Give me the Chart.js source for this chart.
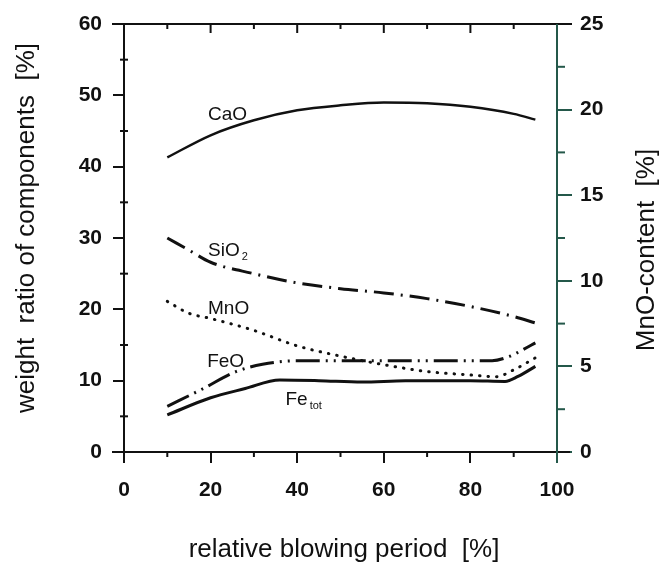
<!DOCTYPE html>
<html lang="en">
<head>
<meta charset="UTF-8">
<title>Slag composition</title>
<script src="https://cdn.jsdelivr.net/npm/chart.js"></script>
<style>
  body { margin: 0; background: #fff; }
  canvas { display: block; }
</style>
</head>
<body>
<canvas id="grafico" width="665" height="562"></canvas>
<script>
// valores
const xCaO = [10, 20, 30, 40, 50, 60, 70, 80, 90, 95];
const cao = [41.3, 44.4, 46.5, 47.9, 48.6, 49.0, 48.9, 48.4, 47.4, 46.6];

const xSiO2 = [10, 15, 20, 30, 40, 50, 60, 70, 80, 90, 95];
const sio2 = [30.0, 28.3, 26.6, 25.0, 23.7, 22.9, 22.3, 21.5, 20.4, 19.0, 18.1];

// MnO no eixo da direita (0-25)
const xMnO = [10, 15, 20, 30, 40, 50, 60, 70, 80, 86, 90, 95];
const mno = [8.8, 8.1, 7.8, 7.1, 6.2, 5.6, 5.1, 4.7, 4.5, 4.4, 4.8, 5.5];

const xFeO = [10, 18, 26, 32, 40, 60, 85, 89, 92, 95];
const feo = [6.4, 8.8, 11.3, 12.3, 12.8, 12.8, 12.8, 13.4, 14.3, 15.3];

const xFetot = [10, 20, 28, 36, 45, 55, 65, 80, 88, 91, 95];
const fetot = [5.2, 7.6, 8.9, 10.1, 10.0, 9.8, 10.0, 10.0, 9.9, 10.6, 12.0];

const xTicks = [0, 20, 40, 60, 80, 100];
const yTicks = [0, 10, 20, 30, 40, 50, 60];
const y2Ticks = [0, 5, 10, 15, 20, 25];

function pares(xs, ys) {
  return xs.map(function (x, i) { return { x: x, y: ys[i] }; });
}

const preto = '#111';
const verde = '#24584a';
const fonte = '"Liberation Sans", Arial, sans-serif';

function serie(nome, xs, ys, eixo, dash, largura) {
  return {
    label: nome,
    data: pares(xs, ys),
    yAxisID: eixo,
    borderColor: preto,
    borderWidth: largura,
    borderDash: dash,
    borderCapStyle: dash.length && dash[0] < 2 ? 'round' : 'butt',
    pointRadius: 0,
    cubicInterpolationMode: 'monotone',
    fill: false
  };
}

// ticks menores, linhas dos eixos e textos
const moldura = {
  id: 'moldura',
  afterDraw(chart) {
    const ctx = chart.ctx;
    const a = chart.chartArea;
    const sx = chart.scales.x, sy = chart.scales.y, s2 = chart.scales.y1;
    ctx.save();
    ctx.lineCap = 'butt';

    function linha(x1, y1, x2, y2, cor, w) {
      ctx.strokeStyle = cor;
      ctx.lineWidth = w;
      ctx.beginPath();
      ctx.moveTo(x1, y1);
      ctx.lineTo(x2, y2);
      ctx.stroke();
    }

    // eixos
    linha(a.left - 12, a.bottom, a.right + 13, a.bottom, preto, 2);
    linha(a.left - 12, a.top, a.right + 15, a.top, preto, 2);
    linha(a.left, a.top, a.left, a.bottom + 11, preto, 2);
    linha(a.right, a.top, a.right, a.bottom + 11, verde, 2);

    // ticks menores
    for (let v = 10; v < 100; v += 20) {
      const px = sx.getPixelForValue(v);
      linha(px, a.bottom, px, a.bottom + 5, preto, 2);
      linha(px, a.top, px, a.top + 5, preto, 2);
    }
    for (let v = 20; v < 100; v += 20) {
      const px = sx.getPixelForValue(v);
      linha(px, a.top, px, a.top + 9, preto, 2);
    }
    for (let v = 5; v < 60; v += 10) {
      const py = sy.getPixelForValue(v);
      linha(a.left - 4, py, a.left + 4, py, preto, 2);
    }
    for (let v = 2.5; v < 25; v += 5) {
      const py = s2.getPixelForValue(v);
      linha(a.right, py, a.right + 8, py, verde, 2);
    }

    // titulos dos eixos
    ctx.fillStyle = preto;
    ctx.font = '26px ' + fonte;
    ctx.textAlign = 'center';
    ctx.textBaseline = 'alphabetic';
    ctx.fillText('relative blowing period  [%]', 344, 557);

    ctx.textBaseline = 'middle';
    ctx.save();
    ctx.translate(27, 228);
    ctx.rotate(-Math.PI / 2);
    ctx.fillText('weight  ratio of components  [%]', 0, 0);
    ctx.restore();

    ctx.save();
    ctx.translate(647, 250);
    ctx.rotate(-Math.PI / 2);
    ctx.fillText('MnO-content  [%]', 0, 0);
    ctx.restore();

    // nomes das curvas
    function rotulo(texto, sub, vx, vy, tam) {
      const px = sx.getPixelForValue(vx);
      const py = sy.getPixelForValue(vy);
      ctx.textAlign = 'left';
      ctx.textBaseline = 'alphabetic';
      ctx.font = tam + 'px ' + fonte;
      ctx.fillText(texto, px, py);
      if (sub) {
        const w = ctx.measureText(texto).width;
        ctx.font = Math.round(tam * 0.6) + 'px ' + fonte;
        ctx.fillText(sub, px + w + 2, py + 4);
      }
    }
    rotulo('CaO', '', 19.4, 46.5, 19);
    rotulo('SiO', '2', 19.4, 27.5, 19);
    rotulo('MnO', '', 19.4, 19.4, 19);
    rotulo('FeO', '', 19.2, 11.9, 19);
    rotulo('Fe', 'tot', 37.3, 6.6, 19);

    ctx.restore();
  }
};

const config = {
  type: 'line',
  data: {
    datasets: [
      serie('CaO', xCaO, cao, 'y', [], 2.5),
      serie('SiO2', xSiO2, sio2, 'y', [20, 7, 2, 7], 3),
      serie('MnO', xMnO, mno, 'y1', [0.5, 8], 3),
      serie('FeO', xFeO, feo, 'y', [24, 6, 2, 6, 2, 6], 3),
      serie('Fe tot', xFetot, fetot, 'y', [], 3)
    ]
  },
  options: {
    responsive: false,
    animation: false,
    layout: { padding: { top: 24, left: 0, right: 0, bottom: 0 } },
    plugins: {
      legend: { display: false },
      tooltip: { enabled: false }
    },
    scales: {
      x: {
        type: 'linear',
        min: 0,
        max: 100,
        afterFit(scale) { scale.height = 110; },
        afterBuildTicks(scale) { scale.ticks = xTicks.map(v => ({ value: v })); },
        grid: { drawOnChartArea: false, drawTicks: true, tickLength: 11, color: preto, lineWidth: 2 },
        border: { display: false },
        ticks: { color: preto, padding: 15, font: { family: fonte, size: 21, weight: 'bold' } }
      },
      y: {
        type: 'linear',
        position: 'left',
        min: 0,
        max: 60,
        afterFit(scale) { scale.width = 124; },
        afterBuildTicks(scale) { scale.ticks = yTicks.map(v => ({ value: v })); },
        grid: { drawOnChartArea: false, drawTicks: true, tickLength: 11, color: preto, lineWidth: 2 },
        border: { display: false },
        ticks: { color: preto, padding: 11, font: { family: fonte, size: 21, weight: 'bold' } }
      },
      y1: {
        type: 'linear',
        position: 'right',
        min: 0,
        max: 25,
        afterFit(scale) { scale.width = 108; },
        afterBuildTicks(scale) { scale.ticks = y2Ticks.map(v => ({ value: v })); },
        grid: { drawOnChartArea: false, drawTicks: true, tickLength: 15, color: verde, lineWidth: 2 },
        border: { display: false },
        ticks: { color: preto, padding: 8, font: { family: fonte, size: 21, weight: 'bold' } }
      }
    }
  },
  plugins: [moldura]
};

const grafico = new Chart(document.getElementById('grafico'), config);
</script>
</body>
</html>
